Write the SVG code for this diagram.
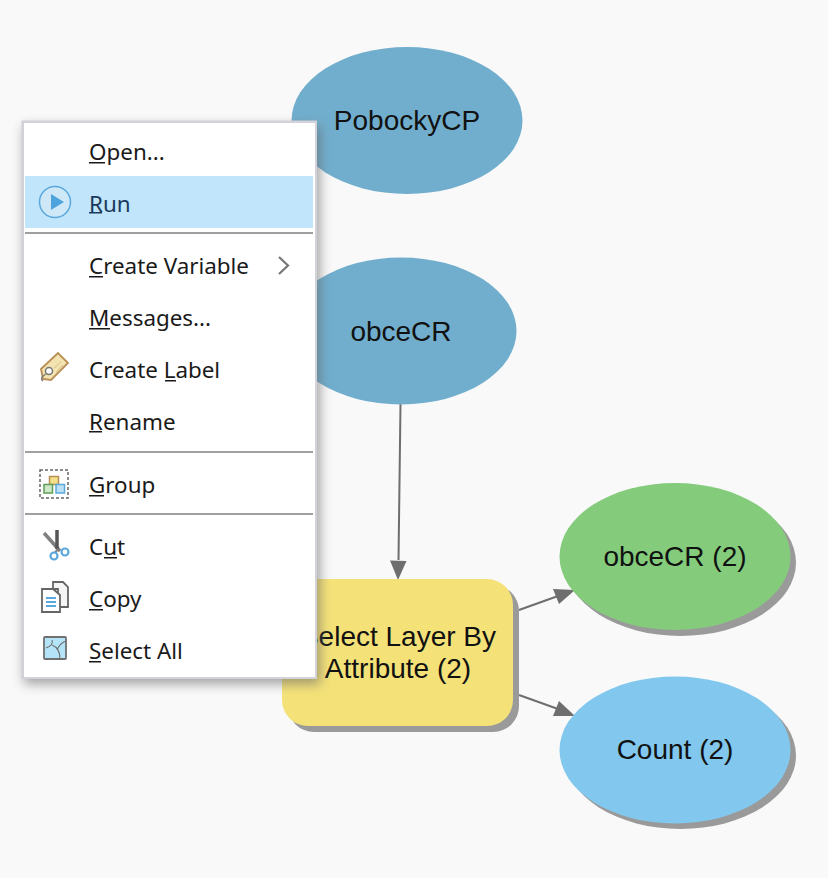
<svg xmlns="http://www.w3.org/2000/svg" width="828" height="878" viewBox="0 0 828 878">
<style>
.n{font:28px "Liberation Sans",Arial,sans-serif;fill:#111;text-anchor:middle}
.m{font:22.400px "Noto Sans","Open Sans",sans-serif;fill:#1a1a1a}
.u{fill:#1a1a1a}
.sep{fill:#a0a0a0}
.c{stroke:#6e6e6e;stroke-width:2;fill:none}
.ah{fill:#6e6e6e}
.sh{fill:#9a9a9a}
</style>
<defs>
<filter id="blur" x="-20%" y="-20%" width="140%" height="140%"><feGaussianBlur stdDeviation="6"/></filter>
</defs>
<rect width="828" height="878" fill="#f9f9f9"/>
<g id="connectors">
<path class="c" d="M400.500 404L398.500 560"/><path class="ah" d="M390 560.500L406.500 561L398 580Z"/>
<path class="c" d="M519 610L558 596"/><path class="ah" d="M553 589L575 590L559 604Z"/>
<path class="c" d="M519 695L558 709"/><path class="ah" d="M559 701L575 716L553 716Z"/>
</g>
<g id="node-pobockycp"><ellipse cx="407" cy="120.500" rx="115.500" ry="73.500" fill="#71aecd"/><text class="n" x="407" y="130">PobockyCP</text></g>
<g id="node-obcecr"><ellipse cx="401" cy="331" rx="115.500" ry="73.500" fill="#71aecd"/><text class="n" x="401" y="341">obceCR</text></g>
<g id="node-select"><rect class="sh" x="288" y="585" width="231" height="147" rx="26"/><rect x="282" y="579" width="231" height="147" rx="26" fill="#f4e279"/><text class="n" x="398" y="646">Select Layer By</text><text class="n" x="398" y="678">Attribute (2)</text></g>
<g id="node-obcecr2"><ellipse class="sh" cx="680.500" cy="562.500" rx="115.500" ry="73.500"/><ellipse cx="675" cy="556.500" rx="115.500" ry="73.500" fill="#84cc7c"/><text class="n" x="675" y="566">obceCR (2)</text></g>
<g id="node-count"><ellipse class="sh" cx="680.500" cy="755.500" rx="115.500" ry="73.500"/><ellipse cx="675" cy="750" rx="115.500" ry="73.500" fill="#82c8ee"/><text class="n" x="675" y="759">Count (2)</text></g>
<g id="menu">
<rect x="24" y="126" width="296" height="558" fill="#666" opacity=".6" filter="url(#blur)"/>
<rect x="21.500" y="120.500" width="295.500" height="558.500" fill="#d2d2d8"/>
<rect x="24" y="123" width="291" height="554" fill="#fff"/>
<rect x="25" y="176" width="288" height="52" fill="#c1e5fa"/>
<rect class="sep" x="25" y="232" width="288" height="2"/>
<rect class="sep" x="25" y="451" width="288" height="2"/>
<rect class="sep" x="25" y="513" width="288" height="2"/>
<text class="m" x="89" y="160">Open...</text><rect class="u" x="89" y="162" width="16" height="1.500"/>
<text class="m" x="89" y="212" style="fill:#1a3a5c">Run</text><rect x="89" y="212" width="13" height="1.500" fill="#1a3a5c"/>
<text class="m" x="89" y="274">Create Variable</text><rect class="u" x="89" y="276" width="14" height="1.500"/>
<text class="m" x="89" y="326">Messages...</text><rect class="u" x="89" y="328" width="21" height="1.500"/>
<text class="m" x="89" y="378">Create Label</text><rect class="u" x="165" y="380" width="11" height="1.500"/>
<text class="m" x="89" y="430">Rename</text><rect class="u" x="89" y="431" width="13" height="1.500"/>
<text class="m" x="89" y="493">Group</text><rect class="u" x="89" y="495" width="15" height="1.500"/>
<text class="m" x="89" y="555">Cut</text><rect class="u" x="104" y="557" width="13" height="1.500"/>
<text class="m" x="89" y="607">Copy</text><rect class="u" x="89" y="609" width="14" height="1.500"/>
<text class="m" x="89" y="659">Select All</text><rect class="u" x="89" y="661" width="12" height="1.500"/>
<path d="M279 257L288 265.500L279 274" fill="none" stroke="#777" stroke-width="2.200"/>
<g id="icon-run"><circle cx="55" cy="202" r="15.500" fill="#cfe8f8" stroke="#5aa8dc" stroke-width="1.500"/><path d="M51 194L64 202L51 210Z" fill="#4fa3dc"/></g>
<g id="icon-label"><path d="M41 369L58 353L68 363L51 380L43 379Z" fill="#f2e3b0" stroke="#b98f55" stroke-width="1.800"/><circle cx="49" cy="371" r="3.500" fill="#fff" stroke="#777" stroke-width="1.500"/><path d="M46 374Q39 378 43 381" fill="none" stroke="#777" stroke-width="1.300"/><path d="M54 368L61 362M56 372L63 365" stroke="#d5c08c"/></g>
<g id="icon-group"><rect x="40" y="470" width="28" height="28" fill="none" stroke="#666" stroke-width="1.500" stroke-dasharray="3 2"/><rect x="49.500" y="476.500" width="9" height="8" fill="#f4e08a" stroke="#b98f55" stroke-width="1.500"/><rect x="44" y="484.500" width="8.500" height="8.500" fill="#cfe8c8" stroke="#5e9e58" stroke-width="1.500"/><rect x="56" y="484.500" width="8.500" height="8.500" fill="#bde0f6" stroke="#5aa8dc" stroke-width="1.500"/></g>
<g id="icon-cut"><path d="M44 533L60 551" stroke="#808080" stroke-width="3.500"/><path d="M57 530V549" stroke="#555" stroke-width="3.500"/><path d="M58 549L53 555" stroke="#808080" stroke-width="2"/><circle cx="54" cy="556" r="3.500" fill="#fff" stroke="#5aa8dc" stroke-width="2.200"/><circle cx="65" cy="552" r="3.500" fill="#fff" stroke="#5aa8dc" stroke-width="2.200"/></g>
<g id="icon-copy"><path d="M53 582H63L68 587V607H58V589H53Z" fill="#f5f5f5" stroke="#666" stroke-width="1.800"/><path d="M42 589H53L60 595V612H42Z" fill="#fff" stroke="#666" stroke-width="1.800"/><path d="M46 598H56M46 602H56M46 606H56" stroke="#5aa8dc" stroke-width="1.800"/></g>
<g id="icon-select"><rect x="44" y="637" width="22" height="22" rx="1" fill="#b4e4f8" stroke="#707070" stroke-width="1.800"/><path d="M46 648Q54 645 52 640M52 645Q60 648 60 659M57 650Q60 643 66 641" fill="none" stroke="#707070" stroke-width="1.100"/></g>
</g>
</svg>
